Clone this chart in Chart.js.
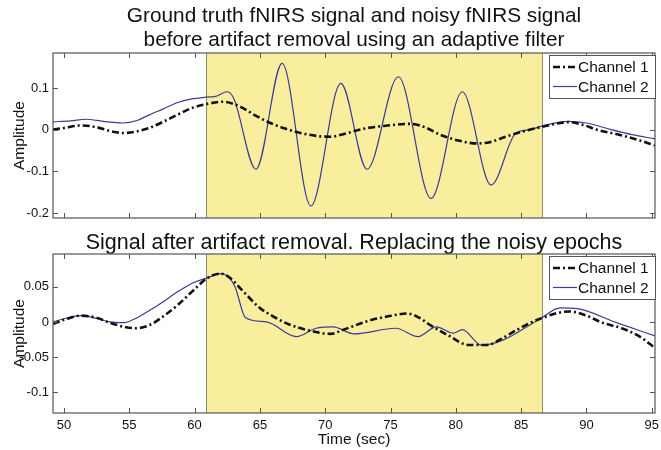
<!DOCTYPE html>
<html>
<head>
<meta charset="utf-8">
<title>fNIRS adaptive filter</title>
<script src="https://cdn.jsdelivr.net/npm/chart.js@4.4.1/dist/chart.umd.min.js"></script>
<style>
  html, body { margin: 0; padding: 0; background: #fff; }
  #wrap { position: relative; width: 661px; height: 450px; overflow: hidden; }
  canvas { position: absolute; left: 0; }
  #topChart { top: 0; }
  #bottomChart { top: 224px; }
</style>
</head>
<body>
<div id="wrap">
  <canvas id="topChart" width="661" height="226"></canvas>
  <canvas id="bottomChart" width="661" height="226"></canvas>
</div>
<script>
// ============================================
// Data
// ============================================
const seriesNames = ['Channel 1', 'Channel 2'];
const epochStart = 60.9;   // shaded noisy epoch, sec
const epochEnd = 86.6;

const xTicks = [50, 55, 60, 65, 70, 75, 80, 85, 90, 95];
const xTickLabels = ['50', '55', '60', '65', '70', '75', '80', '85', '90', '95'];
const yTicksTop = [-0.2, -0.1, 0, 0.1];
const yTickLabelsTop = ['-0.2', '-0.1', '0', '0.1'];
const yTicksBottom = [-0.1, -0.05, 0, 0.05];
const yTickLabelsBottom = ['-0.1', '-0.05', '0', '0.05'];

// top panel: before artifact removal
const tTop1 = [49.16, 50.0, 51.3, 52.5, 53.5, 54.6, 55.6, 56.6, 57.6, 58.7, 59.8, 61.0, 62.2, 63.5, 64.6, 65.8, 67.0, 68.1, 69.6, 70.4, 71.5, 72.9, 74.5, 76.5, 77.7, 78.8, 80.2, 81.6, 82.6, 83.9, 85.2, 86.5, 88.7, 89.7, 90.8, 92.5, 94.0, 95.25];
const ch1Top = [0.0, 0.004, 0.01, 0.006, -0.003, -0.008, -0.004, 0.005, 0.019, 0.036, 0.052, 0.062, 0.067, 0.055, 0.035, 0.016, 0.002, -0.008, -0.016, -0.017, -0.01, 0.002, 0.009, 0.014, 0.005, -0.012, -0.026, -0.033, -0.03, -0.016, -0.004, 0.006, 0.018, 0.012, 0.0, -0.012, -0.025, -0.038];
const tTop2 = [49.16, 50.5, 51.7, 53.0, 54.5, 55.6, 56.5, 57.6, 58.6, 59.8, 60.9, 61.6, 62.5, 63.0, 64.7, 66.7, 68.9, 71.2, 73.2, 75.6, 78.1, 80.5, 82.7, 84.6, 85.7, 86.5, 88.6, 90.0, 91.9, 93.5, 95.25];
const ch2Top = [0.019, 0.021, 0.025, 0.02, 0.016, 0.022, 0.035, 0.05, 0.064, 0.074, 0.078, 0.08, 0.091, 0.075, -0.095, 0.159, -0.183, 0.111, -0.095, 0.127, -0.165, 0.091, -0.133, -0.008, 0.0, 0.008, 0.02, 0.016, 0.0, -0.012, -0.022];

// bottom panel: after artifact removal
const tBot1 = [49.16, 50.0, 51.3, 52.5, 53.5, 54.6, 55.5, 56.6, 57.6, 58.7, 59.9, 61.0, 62.0, 62.7, 63.5, 65.0, 66.2, 67.3, 69.2, 70.4, 71.4, 73.4, 74.8, 76.3, 77.2, 78.0, 79.5, 81.0, 82.4, 83.5, 84.7, 86.5, 88.7, 90.0, 91.2, 92.7, 94.0, 95.25];
const ch1Bot = [-0.003, 0.003, 0.009, 0.006, -0.001, -0.007, -0.009, -0.004, 0.008, 0.024, 0.045, 0.063, 0.069, 0.063, 0.048, 0.02, 0.006, -0.004, -0.014, -0.017, -0.011, 0.002, 0.008, 0.012, 0.006, -0.004, -0.02, -0.033, -0.033, -0.024, -0.011, 0.005, 0.015, 0.009, -0.001, -0.009, -0.02, -0.037];
const tBot2 = [49.16, 50.3, 51.3, 52.5, 53.5, 54.6, 55.6, 56.6, 57.6, 58.7, 59.9, 61.0, 62.0, 62.6, 63.1, 63.9, 65.5, 67.8, 69.3, 70.6, 72.2, 75.4, 77.1, 78.5, 79.8, 80.5, 81.95, 83.6, 86.5, 88.0, 89.3, 92.3, 95.25];
const ch2Bot = [0.0, 0.006, 0.009, 0.005, 0.0, -0.001, 0.006, 0.017, 0.029, 0.043, 0.056, 0.063, 0.069, 0.064, 0.05, 0.006, 0.0, -0.021, -0.009, -0.007, -0.017, -0.009, -0.021, -0.007, -0.016, -0.011, -0.033, -0.026, 0.005, 0.02, 0.019, -0.001, -0.02];

// ============================================
// Styling
// ============================================
const FONT = "'Liberation Sans', Arial, sans-serif";
const TEXT = '#111';

function toPoints(ts, vs) {
    return ts.map((t, i) => ({ x: t, y: vs[i] }));
}

function makeDatasets(t1, v1, t2, v2) {
    return [{
        label: seriesNames[0],
        data: toPoints(t1, v1),
        borderColor: '#111',
        borderWidth: 2.6,
        borderDash: [7, 3, 2, 3],
        pointRadius: 0,
        cubicInterpolationMode: 'monotone'
    }, {
        label: seriesNames[1],
        data: toPoints(t2, v2),
        borderColor: '#3b3b99',
        borderWidth: 1.2,
        pointRadius: 0,
        cubicInterpolationMode: 'monotone'
    }];
}

// shaded epoch, axes box, inward ticks and boxed legend (MATLAB look)
const matlabFrame = {
    id: 'matlabFrame',
    beforeDatasetsDraw(chart) {
        const { ctx, chartArea: a, scales: { x } } = chart;
        const x0 = x.getPixelForValue(epochStart);
        const x1 = x.getPixelForValue(epochEnd);
        ctx.save();
        ctx.fillStyle = '#f9ee9e';
        ctx.fillRect(x0, a.top, x1 - x0, a.bottom - a.top);
        ctx.strokeStyle = '#8d8b66';
        ctx.lineWidth = 1;
        ctx.beginPath();
        ctx.moveTo(Math.round(x0) + 0.5, a.top);
        ctx.lineTo(Math.round(x0) + 0.5, a.bottom);
        ctx.moveTo(Math.round(x1) + 0.5, a.top);
        ctx.lineTo(Math.round(x1) + 0.5, a.bottom);
        ctx.stroke();
        ctx.restore();
    },
    afterDatasetsDraw(chart) {
        const { ctx, chartArea: a, scales: { x, y } } = chart;
        const tick = 5;
        ctx.save();
        ctx.strokeStyle = '#555';
        ctx.lineWidth = 1.2;
        ctx.strokeRect(a.left, a.top, a.right - a.left, a.bottom - a.top);

        ctx.lineWidth = 1;
        ctx.beginPath();
        x.ticks.forEach(tk => {
            const px = Math.round(x.getPixelForValue(tk.value)) + 0.5;
            ctx.moveTo(px, a.bottom); ctx.lineTo(px, a.bottom - tick);
            ctx.moveTo(px, a.top); ctx.lineTo(px, a.top + tick);
        });
        y.ticks.forEach(tk => {
            const py = Math.round(y.getPixelForValue(tk.value)) + 0.5;
            ctx.moveTo(a.left, py); ctx.lineTo(a.left + tick, py);
            ctx.moveTo(a.right, py); ctx.lineTo(a.right - tick, py);
        });
        ctx.stroke();

        // legend
        const lw = 106, lh = 43;
        const left = a.right - lw, top = a.top + 2;
        ctx.fillStyle = '#fff';
        ctx.fillRect(left, top, lw, lh);
        ctx.strokeStyle = '#555';
        ctx.lineWidth = 1;
        ctx.strokeRect(left + 0.5, top + 0.5, lw, lh);
        ctx.font = '15.5px ' + FONT;
        ctx.textBaseline = 'middle';
        chart.data.datasets.forEach((ds, i) => {
            const ry = top + 12 + i * 19.5;
            ctx.strokeStyle = ds.borderColor;
            ctx.lineWidth = ds.borderWidth;
            ctx.setLineDash(ds.borderDash || []);
            ctx.beginPath();
            ctx.moveTo(left + 4, ry);
            ctx.lineTo(left + 28, ry);
            ctx.stroke();
            ctx.setLineDash([]);
            ctx.fillStyle = TEXT;
            ctx.fillText(ds.label, left + 29, ry + 1);
        });
        ctx.restore();
    }
};

function makeChart(canvasId, datasets, opts) {
    return new Chart(document.getElementById(canvasId), {
        type: 'line',
        data: { datasets: datasets },
        plugins: [matlabFrame],
        options: {
            responsive: false,
            maintainAspectRatio: false,
            animation: false,
            events: [],
            layout: { padding: { left: 0, right: 6, top: 0, bottom: 0 } },
            plugins: {
                legend: { display: false },
                tooltip: { enabled: false },
                title: {
                    display: true,
                    fullSize: false,
                    text: opts.title,
                    color: TEXT,
                    font: { family: FONT, size: opts.titleSize, weight: 'normal', lineHeight: opts.titleLineHeight },
                    padding: opts.titlePadding
                }
            },
            scales: {
                x: {
                    type: 'linear',
                    min: 49.16,
                    max: 95.25,
                    grid: { display: false, drawTicks: false, tickLength: 0 },
                    border: { display: false },
                    afterBuildTicks: s => { s.ticks = xTicks.map(v => ({ value: v })); },
                    afterFit: s => { s.height = opts.xHeight; s.paddingLeft = 0; s.paddingRight = 0; },
                    ticks: {
                        display: opts.showX,
                        color: TEXT,
                        padding: 5,
                        maxRotation: 0,
                        font: { family: FONT, size: 13 },
                        callback: (v, i) => xTickLabels[i]
                    },
                    title: {
                        display: opts.showX,
                        text: 'Time (sec)',
                        color: TEXT,
                        font: { family: FONT, size: 15.5 },
                        padding: { top: 0, bottom: 1 }
                    }
                },
                y: {
                    min: opts.yMin,
                    max: opts.yMax,
                    grid: { display: false, drawTicks: false, tickLength: 0 },
                    border: { display: false },
                    afterBuildTicks: s => { s.ticks = opts.yTicks.map(v => ({ value: v })); },
                    afterFit: s => { s.width = 53; s.paddingTop = 0; s.paddingBottom = 0; },
                    ticks: {
                        color: TEXT,
                        padding: 4,
                        font: { family: FONT, size: 13 },
                        callback: (v, i) => opts.yLabels[i]
                    },
                    title: {
                        display: true,
                        text: 'Amplitude',
                        color: TEXT,
                        font: { family: FONT, size: 15.5 },
                        padding: { top: 10, bottom: 0 }
                    }
                }
            }
        }
    });
}

makeChart('topChart', makeDatasets(tTop1, ch1Top, tTop2, ch2Top), {
    title: ['Ground truth fNIRS signal and noisy fNIRS signal', 'before artifact removal using an adaptive filter'],
    titleSize: 20.8,
    titleLineHeight: 1.154,
    titlePadding: { top: 4, bottom: 1 },
    showX: false,
    xHeight: 8,
    yMin: -0.212,
    yMax: 0.184,
    yTicks: yTicksTop,
    yLabels: yTickLabelsTop
});

makeChart('bottomChart', makeDatasets(tBot1, ch1Bot, tBot2, ch2Bot), {
    title: 'Signal after artifact removal. Replacing the noisy epochs',
    titleSize: 21.5,
    titleLineHeight: 0.93,
    titlePadding: { top: 9, bottom: 1 },
    showX: true,
    xHeight: 37,
    yMin: -0.13,
    yMax: 0.097,
    yTicks: yTicksBottom,
    yLabels: yTickLabelsBottom
});
</script>
</body>
</html>
